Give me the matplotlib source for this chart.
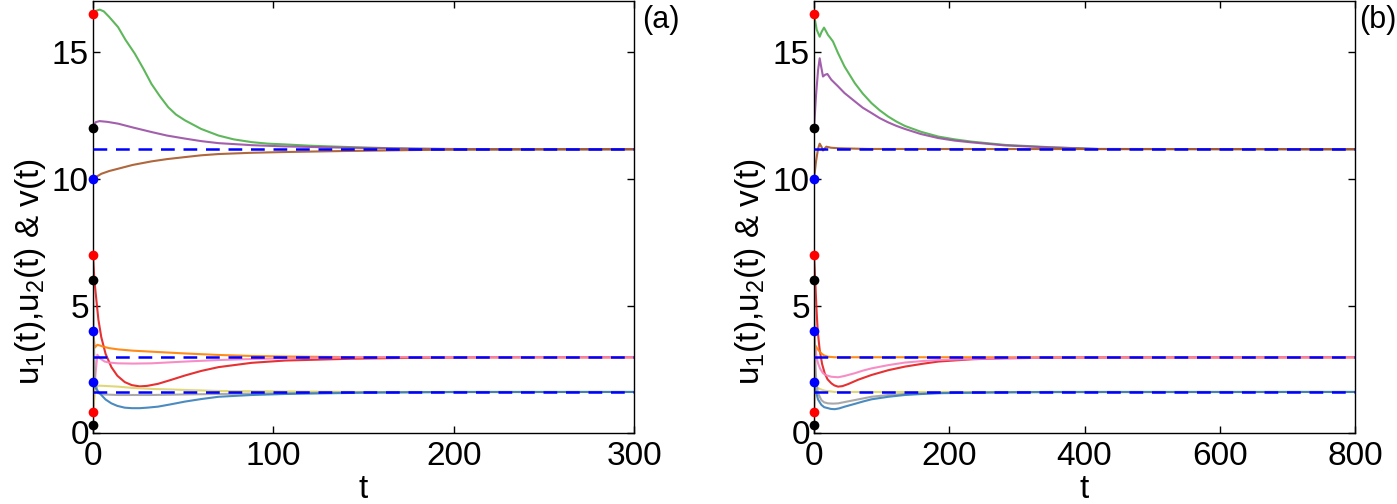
import matplotlib
matplotlib.use("Agg")
import matplotlib.pyplot as plt

plt.rcParams['font.family'] = ['Liberation Sans', 'DejaVu Sans']
plt.rcParams['mathtext.fontset'] = 'custom'
plt.rcParams['mathtext.rm'] = 'Liberation Sans'
plt.rcParams['mathtext.it'] = 'Liberation Sans'

# ---------------- data ----------------
EQ_LEVELS = [11.18, 2.97, 1.60]

# initial conditions (dots at t=0)
DOT_RED = [16.5, 7.0, 0.8]
DOT_BLACK = [12.0, 6.0, 0.3]
DOT_BLUE = [10.0, 4.0, 2.0]

COLORS = {
    'green': '#4DAF4A', 'purple': '#984EA3', 'brown': '#A65628',
    'red': '#E41A1C', 'orange': '#FF7F00', 'pink': '#F781BF',
    'yellow': '#DDD36A', 'gray': '#A0A0A0', 'blue': '#377EB8',
}

# panel (a)
A_GREEN_T = [0, 1.5, 3.7, 6, 9, 13.9, 18, 23.2, 28, 32.4, 37, 41.7, 46, 51, 60, 69.6, 78, 88, 97, 106.5, 120, 140, 170, 200, 300]
A_GREEN_V = [16.5, 16.64, 16.69, 16.62, 16.4, 16.0, 15.5, 14.95, 14.35, 13.76, 13.28, 12.84, 12.55, 12.32, 11.98, 11.72, 11.57, 11.46, 11.40, 11.37, 11.32, 11.27, 11.21, 11.18, 11.18]
A_PURPLE_T = [0, 1.5, 3.7, 8, 13.9, 22, 32.4, 41, 51, 60, 69.6, 88, 106.5, 140, 180, 220, 300]
A_PURPLE_V = [12.0, 12.25, 12.29, 12.26, 12.19, 12.04, 11.86, 11.72, 11.6, 11.5, 11.42, 11.34, 11.29, 11.24, 11.2, 11.18, 11.18]
A_BROWN_T = [0, 2, 4.6, 9, 13.9, 22, 32.4, 41, 51, 60, 69.6, 88, 106.5, 140, 180, 220, 300]
A_BROWN_V = [10.0, 10.1, 10.21, 10.32, 10.41, 10.56, 10.70, 10.79, 10.87, 10.94, 10.99, 11.04, 11.07, 11.11, 11.15, 11.17, 11.18]
A_RED_T = [0, 0.55, 1.2, 1.9, 3, 4.6, 7, 10.2, 13.5, 17.6, 21.5, 25.9, 30, 36, 43, 51, 60, 69.6, 88, 106.5, 142.6, 180, 220, 300]
A_RED_V = [7.0, 6.28, 5.7, 5.21, 4.45, 3.76, 3.1, 2.58, 2.24, 1.99, 1.87, 1.82, 1.84, 1.92, 2.07, 2.25, 2.43, 2.58, 2.75, 2.84, 2.91, 2.95, 2.97, 2.97]
A_ORANGE_T = [0, 1.0, 2.4, 4, 6, 9, 13.9, 22, 32.4, 51, 69.6, 88, 106.5, 150, 300]
A_ORANGE_V = [4.0, 3.35, 3.46, 3.43, 3.38, 3.33, 3.28, 3.23, 3.19, 3.12, 3.06, 3.02, 3.0, 2.97, 2.97]
A_PINK_T = [0, 1.0, 2.4, 4, 6.5, 9, 13.9, 22, 32.4, 51, 69.6, 88, 106.5, 150, 300]
A_PINK_V = [0.3, 2.0, 3.07, 2.92, 2.80, 2.76, 2.73, 2.72, 2.73, 2.80, 2.86, 2.9, 2.93, 2.97, 2.97]
A_YELLOW_T = [0, 1.0, 2.8, 6, 13.9, 22, 32.4, 51, 69.6, 106.5, 150, 300]
A_YELLOW_V = [0.8, 1.7, 1.85, 1.84, 1.81, 1.76, 1.72, 1.68, 1.64, 1.62, 1.60, 1.60]
A_GRAY_T = [0, 0.5, 1.2, 2.8, 6, 13.9, 32.4, 50, 69.6, 106.5, 150, 300]
A_GRAY_V = [6.0, 3.5, 2.0, 1.55, 1.5, 1.48, 1.48, 1.5, 1.52, 1.55, 1.59, 1.60]
A_BLUE_T = [0, 1.5, 3, 4.6, 7, 10.2, 13.5, 17.6, 21.5, 25.9, 30, 36, 43, 51, 60, 69.6, 88, 106.5, 150, 200, 300]
A_BLUE_V = [2.0, 1.75, 1.6, 1.48, 1.3, 1.15, 1.05, 0.98, 0.96, 0.96, 0.98, 1.02, 1.11, 1.22, 1.32, 1.41, 1.48, 1.52, 1.57, 1.60, 1.60]

# panel (b)
B_GREEN_T = [0, 4, 8.4, 11, 14.8, 17.5, 20.7, 24, 28.1, 35.6, 45, 60.3, 72, 85, 97, 109.7, 122, 134.4, 158, 183.8, 208, 233, 282.5, 349, 420, 800]
B_GREEN_V = [16.5, 15.9, 15.62, 15.8, 15.98, 15.85, 15.69, 15.58, 15.43, 14.97, 14.45, 13.79, 13.38, 13.0, 12.72, 12.47, 12.27, 12.1, 11.87, 11.68, 11.57, 11.48, 11.35, 11.26, 11.19, 11.18]
B_PURPLE_T = [0, 3, 6, 8.4, 10.5, 13.3, 16.5, 19.8, 25.7, 35.6, 45, 60.3, 72, 85, 97, 109.7, 122, 134.4, 158, 183.8, 208, 233, 282.5, 349, 420, 800]
B_PURPLE_V = [12.0, 13.3, 14.3, 14.77, 14.45, 14.05, 14.12, 14.15, 13.92, 13.66, 13.4, 13.07, 12.82, 12.61, 12.41, 12.24, 12.1, 11.98, 11.78, 11.62, 11.52, 11.45, 11.33, 11.25, 11.19, 11.18]
B_BROWN_T = [0, 3, 6, 8.4, 11, 13.3, 15.5, 18.3, 25, 35.6, 80, 800]
B_BROWN_V = [10.0, 10.7, 11.2, 11.4, 11.28, 11.13, 11.2, 11.28, 11.24, 11.22, 11.19, 11.18]
B_RED_T = [0, 2, 3.5, 5.5, 8.4, 12, 15.8, 20, 25.7, 30, 35.6, 42, 50.4, 65, 85, 110, 134.4, 160, 183.8, 233, 282.5, 380, 800]
B_RED_V = [7.0, 5.9, 4.97, 4.0, 3.26, 2.7, 2.34, 2.1, 1.94, 1.86, 1.81, 1.83, 1.91, 2.08, 2.27, 2.46, 2.60, 2.71, 2.80, 2.89, 2.93, 2.96, 2.97]
B_ORANGE_T = [0, 1, 5, 10.9, 15, 20.7, 30.6, 800]
B_ORANGE_V = [4.0, 3.48, 3.3, 3.12, 3.04, 2.99, 2.97, 2.97]
B_PINK_T = [0, 2, 4, 6, 9, 13.3, 18, 25.7, 35.6, 45, 60.3, 72, 85, 110, 134.4, 160, 183.8, 230, 282.5, 380, 800]
B_PINK_V = [0.3, 3.3, 2.95, 2.73, 2.52, 2.34, 2.26, 2.2, 2.18, 2.23, 2.34, 2.44, 2.53, 2.66, 2.76, 2.82, 2.86, 2.9, 2.93, 2.96, 2.97]
B_YELLOW_T = [0, 1.5, 3.5, 8, 15.8, 30, 800]
B_YELLOW_V = [0.8, 1.9, 1.81, 1.72, 1.65, 1.60, 1.60]
B_GRAY_T = [0, 1.5, 3.5, 6, 10.9, 15, 20.7, 28, 35.6, 45, 60.3, 85, 110, 134.4, 170, 208, 300, 800]
B_GRAY_V = [6.0, 3.0, 1.94, 1.55, 1.28, 1.19, 1.15, 1.14, 1.15, 1.2, 1.28, 1.41, 1.48, 1.52, 1.55, 1.57, 1.59, 1.60]
B_BLUE_T = [0, 2, 3.5, 6, 10.9, 15, 20.7, 25, 30.6, 37, 45.4, 60.3, 72, 85, 110, 134.4, 160, 183.8, 260, 350, 800]
B_BLUE_V = [2.0, 1.7, 1.55, 1.3, 1.09, 1.0, 0.96, 0.93, 0.92, 0.95, 1.02, 1.13, 1.22, 1.31, 1.41, 1.48, 1.52, 1.55, 1.58, 1.60, 1.60]

PANELS = [
    dict(label='(a)', xlim=300, xticks=[0, 100, 200, 300],
         curves=[('green', A_GREEN_T, A_GREEN_V), ('purple', A_PURPLE_T, A_PURPLE_V),
                 ('brown', A_BROWN_T, A_BROWN_V), ('red', A_RED_T, A_RED_V),
                 ('orange', A_ORANGE_T, A_ORANGE_V), ('pink', A_PINK_T, A_PINK_V),
                 ('yellow', A_YELLOW_T, A_YELLOW_V), ('gray', A_GRAY_T, A_GRAY_V),
                 ('blue', A_BLUE_T, A_BLUE_V)]),
    dict(label='(b)', xlim=800, xticks=[0, 200, 400, 600, 800],
         curves=[('green', B_GREEN_T, B_GREEN_V), ('purple', B_PURPLE_T, B_PURPLE_V),
                 ('brown', B_BROWN_T, B_BROWN_V), ('red', B_RED_T, B_RED_V),
                 ('orange', B_ORANGE_T, B_ORANGE_V), ('pink', B_PINK_T, B_PINK_V),
                 ('yellow', B_YELLOW_T, B_YELLOW_V), ('gray', B_GRAY_T, B_GRAY_V),
                 ('blue', B_BLUE_T, B_BLUE_V)]),
]

# ---------------- figure ----------------
W, H = 1397, 504
fig = plt.figure(figsize=(W / 100, H / 100), dpi=100)

ax_rects = [(93, 634), (814, 1355)]
label_x = [642, 1359]
ylabel_x = [30, 751]
FS = 24

for p, (x0, x1), lx, ylx in zip(PANELS, ax_rects, label_x, ylabel_x):
    ax = fig.add_axes([x0 / W, (H - 432.5) / H, (x1 - x0) / W, 432 / H])
    for name, t, v in p['curves']:
        ax.plot(t, v, color=COLORS[name], lw=1.5, alpha=0.9, zorder=2,
                solid_joinstyle='round')
    for lvl in EQ_LEVELS:
        ax.plot([0, p['xlim']], [lvl, lvl], color='#0000FF', lw=1.8,
                dashes=(5.5, 3.5), zorder=3)
    for vals, c in [(DOT_RED, '#FF0000'), (DOT_BLACK, 'black'), (DOT_BLUE, '#0000FF')]:
        ax.plot([0] * len(vals), vals, 'o', color=c, ms=7, mec='none',
                clip_on=False, zorder=5)
    ax.set_xlim(0, p['xlim'])
    ax.set_ylim(0, 17.05)
    ax.set_xticks(p['xticks'])
    ax.set_yticks([0, 5, 10, 15])
    ax.tick_params(direction='in', length=5, width=1, top=True, right=True,
                   labelsize=FS, pad=3)
    ax.tick_params(axis='x', pad=6)
    for s in ax.spines.values():
        s.set_linewidth(1.0)
    fig.text((x0 + x1) / 2 / W, 1 - 490 / H, 't', fontsize=FS, ha='center', va='center')
    fig.text(ylx / W, 1 - 272 / H, 'u$_1$(t),u$_2$(t) & v(t)', fontsize=FS,
             rotation=90, ha='center', va='center')
    fig.text(lx / W, 1 - 20 / H, p['label'], fontsize=22, ha='left', va='center')

fig.savefig('out.png', dpi=100)
